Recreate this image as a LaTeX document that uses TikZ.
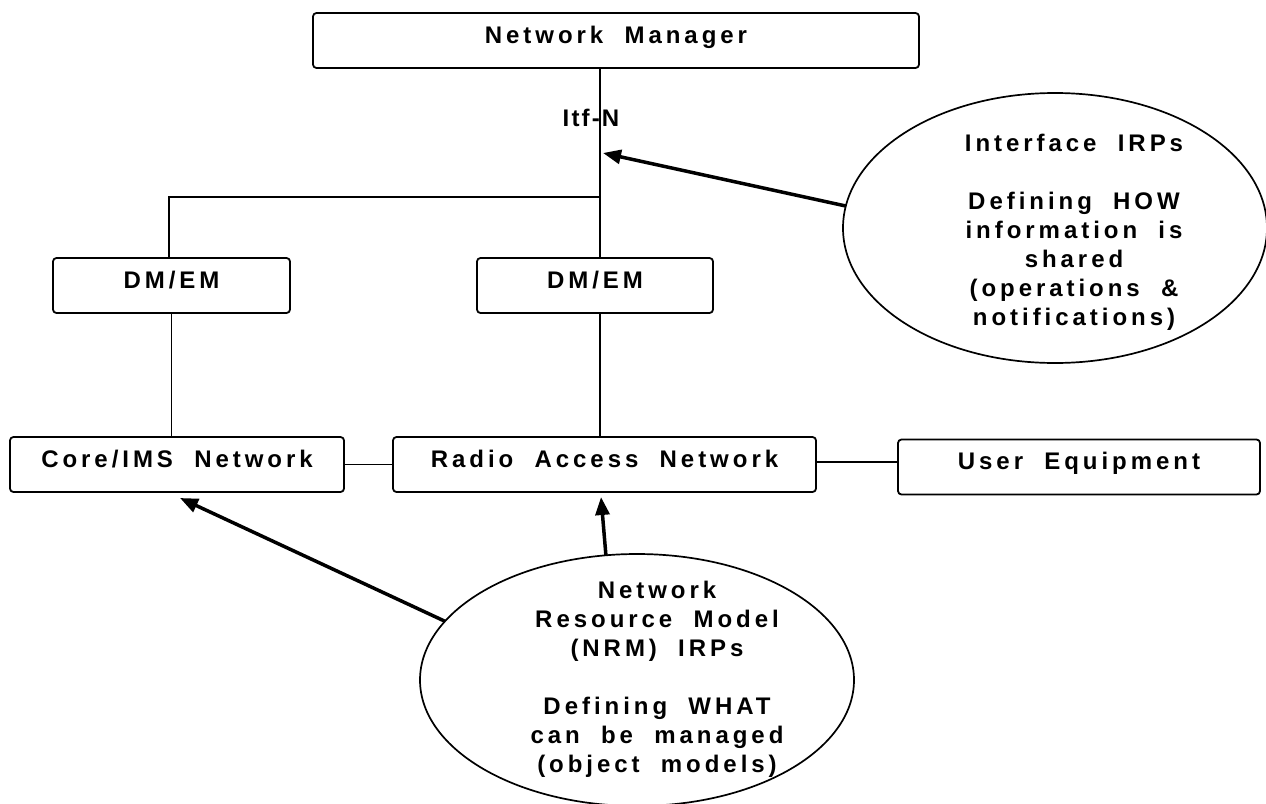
\documentclass[tikz,border=0pt]{standalone}
\usepackage{fontspec}
\newfontfamily\lsp{Liberation Sans Bold}[LetterSpace=16.5,WordSpace=2]
\newfontfamily\itffont{Liberation Sans Bold}[LetterSpace=9]
\usetikzlibrary{arrows.meta,shapes.geometric,calc}
\begin{document}
\begin{tikzpicture}[x=1pt,y=-1pt,
  box/.style={draw,line width=1.8pt,rounded corners=3.5pt,inner sep=0pt,outer sep=0pt,
    text height=30pt,text depth=25pt,minimum height=55pt,font=\lsp\fontsize{24}{29}\selectfont},
  conn/.style={line width=1.5pt},
  ell/.style={draw,ellipse,line width=1.7pt,inner sep=0pt,outer sep=0pt},
  etext/.style={align=center,inner sep=0pt,font=\lsp\fontsize{24}{29}\selectfont},
  arr/.style={line width=3.5pt,-{Triangle[length=18pt,width=14pt]}}]
\useasboundingbox (0,0) rectangle (1266,803);
\fill[white] (0,0) rectangle (1266,803);
% boxes
\node[box,minimum width=606pt] (nm) at (616,40.5) {Network Manager};
\node[box,minimum width=237pt] (dm1) at (171.5,285.5) {DM/EM};
\node[box,minimum width=236pt] (dm2) at (595,285.5) {DM/EM};
\node[box,minimum width=334pt] (core) at (177,464.5) {Core/IMS Network};
\node[box,minimum width=423pt] (ran) at (604.5,464.5) {Radio Access Network};
\node[box,minimum width=362pt] (ue) at (1079,467) {User Equipment};
% connectors
\coordinate (j) at (600,197);
\coordinate (jl) at (169,197);
\draw[conn] (nm.south -| j) -- (dm2.north -| j);
\draw[conn] (j) -- (jl) -- (dm1.north -| jl);
\draw[conn] (dm1.south) -- (dm1.south |- core.north);
\draw[conn] (dm2.south -| j) -- (ran.north -| j);
\draw[conn] (core.east) -- (ran.west);
\draw[conn] ($(ran.east)+(0,-2.5)$) -- ($(ran.east -| ue.west)+(0,-2.5)$);
\node[font=\itffont\fontsize{24}{29}\selectfont,anchor=base,inner sep=0pt] (itf) at (591,126) {Itf-N};
% ellipses
\node[ell,minimum width=424pt,minimum height=270pt] (ifell) at (1055,228) {};
\node[ell,minimum width=434pt,minimum height=252pt] (nrmell) at (637,680) {};
\node[etext] (iftext) at (1074,232) {Interface IRPs\\[29pt]Defining HOW\\information is\\shared\\(operations \&\\notifications)};
\node[etext] (nrmtext) at (657,679) {Network\\Resource Model\\(NRM) IRPs\\[29pt]Defining WHAT\\can be managed\\(object models)};
% arrows
\coordinate (tipA) at (603,153);
\coordinate (tipB) at (180,498);
\coordinate (tipC) at (601,497);
\draw[arr] (ifell.174) -- (tipA);
\draw[arr] (nrmell.163) -- (tipB);
\draw[arr] (nrmell.104.6) -- (tipC);
\end{tikzpicture}
\end{document}
